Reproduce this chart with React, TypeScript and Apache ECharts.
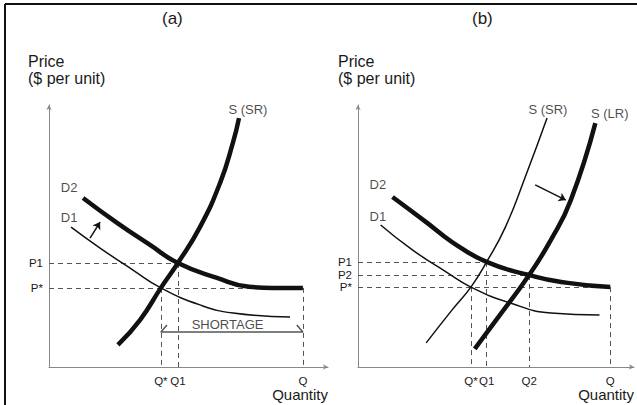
import React, { useEffect, useRef } from "react";
import * as echarts from "echarts";

// ---- Panel (a) ----
const priceTicksA = [30.2, 39.7];
const priceNamesA = ["P*", "P1"];
const qtyTicksA = [40.1, 46.2, 91.0];
const qtyNamesA = ["Q*", "Q1", "Q"];
const supplySRA = [[24.7, 8.4], [32.6, 17.9], [40.1, 30.2], [46.2, 39.7], [54.1, 53.4], [61.3, 70.2], [65.9, 85.5], [68.1, 95.0]];
const demand1A = [[7.9, 53.4], [18.3, 45.4], [30.1, 37.0], [40.1, 30.2], [54.1, 23.7], [66.0, 20.6], [86.4, 19.1]];
const demand2A = [[12.2, 64.5], [24.4, 55.0], [36.2, 46.6], [46.2, 39.7], [60.2, 34.0], [71.7, 30.6], [80.0, 30.2], [91.0, 30.2]];
const shiftArrowA = [[14.7, 49.2], [18.3, 55.3]];
const shortageLevelA = 13.4;
const labelsA = [
  [71.3, 98.1, "S (SR)"],
  [7.2, 68.7, "D2"],
  [7.2, 56.9, "D1"],
  [64.0, 16.4, "SHORTAGE"],
];

// ---- Panel (b) ----
const priceTicksB = [30.5, 35.1, 40.1];
const priceNamesB = ["P*", "P2", "P1"];
const qtyTicksB = [40.9, 46.6, 62.0, 91.4];
const qtyNamesB = ["Q*", "Q1", "Q2", "Q"];
const supplySRB = [[24.7, 9.2], [34.1, 21.8], [40.9, 30.5], [46.6, 40.1], [53.4, 53.4], [60.6, 72.5], [68.5, 95.0]];
const supplyLRB = [[42.3, 6.9], [50.9, 19.1], [62.0, 35.1], [69.9, 48.5], [77.1, 63.7], [86.0, 93.1]];
const demand1B = [[8.2, 54.2], [19.7, 44.7], [31.9, 36.3], [40.9, 30.5], [55.2, 24.4], [69.9, 20.6], [87.5, 19.8]];
const demand2B = [[12.5, 64.9], [24.7, 55.3], [34.1, 47.7], [46.6, 40.1], [62.0, 35.1], [76.0, 32.1], [91.4, 30.5]];
const shiftArrowB = [[64.2, 69.5], [75.3, 63.7]];
const labelsB = [
  [68.8, 98.1, "S (SR)"],
  [91.2, 96.9, "S (LR)"],
  [7.2, 69.5, "D2"],
  [7.2, 57.3, "D1"],
];

const FONT = "'Liberation Sans', Arial, sans-serif";
const INK = "#111";
const TEXT = "#1a1a1a";

function App() {
  const ref = useRef<HTMLDivElement>(null);
  useEffect(() => {
    document.body.style.margin = "0";
    const chart = echarts.init(ref.current!, null, { renderer: "svg" });

    const makeAxes = (idx: number, pTicks: number[], pNames: string[], qTicks: number[], qNames: string[]) => {
      const xAxis = {
        type: "value",
        gridIndex: idx,
        min: 0,
        max: 100,
        splitLine: { show: false },
        axisTick: { show: false },
        axisLine: { lineStyle: { color: "#888", width: 1 }, symbol: ["none", "arrow"], symbolSize: [4, 5] },
        axisLabel: {
          customValues: qTicks,
          formatter: (v: number) => qNames[qTicks.indexOf(v)] ?? "",
          fontFamily: FONT,
          fontSize: 11.5,
          lineHeight: 12,
          color: TEXT,
          margin: 8,
        },
        name: "Quantity",
        nameLocation: "end",
        nameGap: 0,
        nameTextStyle: { align: "right", verticalAlign: "top", padding: [20, 0, 0, 0], fontFamily: FONT, fontSize: 15, color: TEXT },
      };
      const yAxis = {
        type: "value",
        gridIndex: idx,
        min: 0,
        max: 100,
        splitLine: { show: false },
        axisTick: { show: false },
        axisLine: { lineStyle: { color: "#888", width: 1 }, symbol: ["none", "arrow"], symbolSize: [4, 5] },
        axisLabel: {
          customValues: pTicks,
          formatter: (v: number) => pNames[pTicks.indexOf(v)] ?? "",
          fontFamily: FONT,
          fontSize: 11.5,
          lineHeight: 11,
          color: TEXT,
          margin: 6,
        },
      };
      return { xAxis, yAxis };
    };

    const axA = makeAxes(0, priceTicksA, priceNamesA, qtyTicksA, qtyNamesA);
    const axB = makeAxes(1, priceTicksB, priceNamesB, qtyTicksB, qtyNamesB);

    const curve = (idx: number, data: number[][], width: number) => ({
      type: "line",
      xAxisIndex: idx,
      yAxisIndex: idx,
      data,
      smooth: 0.5,
      symbol: "none",
      silent: true,
      lineStyle: { color: INK, width, cap: "butt" },
    });

    // dashed guide segments built from tick values and crossing points
    const guides = (idx: number, pTicks: number[], qTicks: number[], pairs: number[][]) => ({
      type: "lines",
      coordinateSystem: "cartesian2d",
      xAxisIndex: idx,
      yAxisIndex: idx,
      silent: true,
      lineStyle: { color: "#555", width: 1, type: [5, 4], opacity: 1 },
      data: pairs.flatMap(([qi, pi]) => [
        { coords: [[0, pTicks[pi]], [qTicks[qi], pTicks[pi]]] },
        { coords: [[qTicks[qi], pTicks[pi]], [qTicks[qi], 0]] },
      ]),
    });

    const arrow = (idx: number, pts: number[][]) => ({
      type: "lines",
      coordinateSystem: "cartesian2d",
      xAxisIndex: idx,
      yAxisIndex: idx,
      silent: true,
      symbol: ["none", "arrow"],
      symbolSize: 7,
      lineStyle: { color: INK, width: 1.5, opacity: 1 },
      data: [{ coords: pts }],
    });

    const labels = (idx: number, items: (number | string)[][], size: number) => ({
      type: "scatter",
      xAxisIndex: idx,
      yAxisIndex: idx,
      symbolSize: 0,
      silent: true,
      data: items,
      label: {
        show: true,
        position: "inside",
        formatter: (p: any) => p.value[2],
        fontFamily: FONT,
        fontSize: size,
        color: TEXT,
        textBorderWidth: 0,
      },
    });

    const qS = qtyTicksA[0];
    const qE = qtyTicksA[2];
    const shortage = {
      type: "line",
      xAxisIndex: 0,
      yAxisIndex: 0,
      symbol: "none",
      silent: true,
      lineStyle: { color: "#555", width: 1.5 },
      data: [
        [qS + 2.2, shortageLevelA + 2.6],
        [qS, shortageLevelA],
        [qE, shortageLevelA],
        [qE - 2.2, shortageLevelA + 2.6],
      ],
    };

    const titleStyle = (size: number) => ({ fontFamily: FONT, fontSize: size, lineHeight: 17, fontWeight: "normal", color: TEXT });

    chart.setOption({
      animation: false,
      backgroundColor: "#fff",
      title: [
        { text: "(a)", left: 162, top: 10, padding: 0, textStyle: titleStyle(17) },
        { text: "(b)", left: 472, top: 10, padding: 0, textStyle: titleStyle(17) },
        { text: "Price\n($ per unit)", left: 28, top: 53, padding: 0, textStyle: titleStyle(16) },
        { text: "Price\n($ per unit)", left: 338, top: 53, padding: 0, textStyle: titleStyle(16) },
      ],
      grid: [
        { left: 49, top: 105, width: 279, height: 262 },
        { left: 358, top: 105, width: 279, height: 262 },
      ],
      xAxis: [axA.xAxis, axB.xAxis],
      yAxis: [axA.yAxis, axB.yAxis],
      graphic: [
        { type: "line", shape: { x1: 5, y1: 4, x2: 637, y2: 4 }, style: { stroke: INK, lineWidth: 2 } },
        { type: "line", shape: { x1: 5, y1: 4, x2: 5, y2: 405 }, style: { stroke: INK, lineWidth: 2 } },
      ],
      series: [
        guides(0, priceTicksA, qtyTicksA, [[0, 0], [1, 1], [2, 0]]),
        guides(1, priceTicksB, qtyTicksB, [[0, 0], [1, 2], [2, 1], [3, 0]]),
        shortage,
        curve(0, demand1A, 1.5),
        curve(0, demand2A, 4.5),
        curve(0, supplySRA, 4.5),
        arrow(0, shiftArrowA),
        labels(0, labelsA, 13),
        curve(1, demand1B, 1.5),
        curve(1, demand2B, 4.5),
        curve(1, supplySRB, 1.5),
        curve(1, supplyLRB, 4.5),
        arrow(1, shiftArrowB),
        labels(1, labelsB, 13),
      ],
    });
    return () => chart.dispose();
  }, []);
  return <div ref={ref} style={{ width: 637, height: 405 }} />;
}

export default App;
